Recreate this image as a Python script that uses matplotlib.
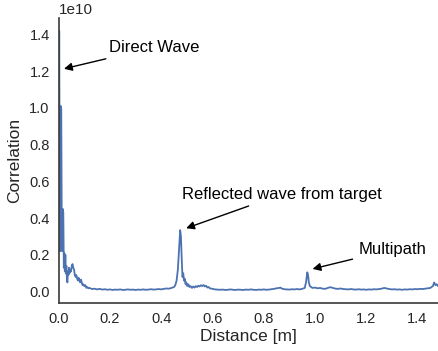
import numpy as np
import matplotlib
matplotlib.use("Agg")
import matplotlib.pyplot as plt
import seaborn as sns

sns.set_theme(style="white")
plt.rcParams['font.family'] = ['Liberation Sans', 'DejaVu Sans']

distance_m = [
    0.000, 0.002, 0.004, 0.006, 0.008, 0.010, 0.012, 0.014, 0.016, 0.018,
    0.020, 0.022, 0.024, 0.026, 0.028, 0.030, 0.032, 0.034, 0.036, 0.038,
    0.040, 0.042, 0.045, 0.048, 0.051, 0.054, 0.057, 0.060, 0.063, 0.066,
    0.069, 0.072, 0.075, 0.078, 0.081, 0.084, 0.087, 0.090, 0.093, 0.096,
    0.100, 0.104, 0.108, 0.112, 0.116, 0.120, 0.13, 0.14, 0.15, 0.16,
    0.17, 0.18, 0.19, 0.20, 0.21, 0.22, 0.23, 0.24, 0.25, 0.26,
    0.27, 0.28, 0.29, 0.30, 0.31, 0.32, 0.33, 0.34, 0.35, 0.36,
    0.37, 0.38, 0.39, 0.40, 0.41, 0.42, 0.43, 0.44, 0.45, 0.455,
    0.460, 0.465, 0.470, 0.474, 0.477, 0.480, 0.483, 0.486, 0.489, 0.492,
    0.495, 0.498, 0.502, 0.506, 0.510, 0.515, 0.52, 0.525, 0.53, 0.535,
    0.54, 0.545, 0.55, 0.555, 0.56, 0.565, 0.57, 0.575, 0.58, 0.585,
    0.59, 0.60, 0.61, 0.62, 0.63, 0.64, 0.65, 0.66, 0.67, 0.68,
    0.69, 0.70, 0.71, 0.72, 0.73, 0.74, 0.75, 0.76, 0.77, 0.78,
    0.79, 0.80, 0.81, 0.82, 0.83, 0.84, 0.85, 0.86, 0.865, 0.87,
    0.88, 0.89, 0.90, 0.91, 0.92, 0.93, 0.94, 0.95, 0.96, 0.965,
    0.970, 0.973, 0.976, 0.980, 0.985, 0.99, 1.00, 1.01, 1.02, 1.03,
    1.04, 1.05, 1.06, 1.07, 1.08, 1.09, 1.10, 1.11, 1.12, 1.13,
    1.14, 1.15, 1.16, 1.17, 1.18, 1.19, 1.20, 1.21, 1.22, 1.23,
    1.24, 1.25, 1.26, 1.27, 1.28, 1.29, 1.30, 1.31, 1.32, 1.33,
    1.34, 1.35, 1.36, 1.37, 1.38, 1.39, 1.40, 1.41, 1.42, 1.43,
    1.44, 1.45, 1.46, 1.465, 1.470, 1.475, 1.48,
]

correlation_e10 = [
    0.25, 1.42, 0.55, 0.22, 1.01, 0.99, 0.35, 0.22, 0.45, 0.43,
    0.13, 0.21, 0.11, 0.20, 0.10, 0.14, 0.07, 0.05, 0.11, 0.09,
    0.13, 0.10, 0.12, 0.11, 0.14, 0.15, 0.13, 0.12, 0.09, 0.08,
    0.09, 0.07, 0.06, 0.075, 0.06, 0.05, 0.065, 0.05, 0.035, 0.04,
    0.03, 0.035, 0.02, 0.025, 0.018, 0.02, 0.014, 0.016, 0.012, 0.015,
    0.011, 0.013, 0.010, 0.012, 0.009, 0.011, 0.010, 0.012, 0.009, 0.010,
    0.012, 0.010, 0.011, 0.009, 0.011, 0.010, 0.012, 0.010, 0.011, 0.013,
    0.011, 0.012, 0.014, 0.012, 0.015, 0.017, 0.016, 0.020, 0.025, 0.035,
    0.06, 0.12, 0.24, 0.335, 0.30, 0.18, 0.08, 0.10, 0.06, 0.07,
    0.04, 0.05, 0.03, 0.04, 0.025, 0.03, 0.02, 0.028, 0.022, 0.030,
    0.025, 0.032, 0.028, 0.035, 0.030, 0.036, 0.028, 0.032, 0.022, 0.025,
    0.018, 0.015, 0.012, 0.011, 0.010, 0.011, 0.009, 0.010, 0.012, 0.010,
    0.009, 0.011, 0.010, 0.009, 0.011, 0.010, 0.012, 0.010, 0.009, 0.011,
    0.010, 0.012, 0.010, 0.011, 0.013, 0.015, 0.018, 0.020, 0.022, 0.017,
    0.013, 0.012, 0.011, 0.013, 0.012, 0.014, 0.012, 0.015, 0.020, 0.05,
    0.105, 0.09, 0.05, 0.03, 0.025, 0.02, 0.022, 0.018, 0.020, 0.016,
    0.015, 0.020, 0.024, 0.020, 0.016, 0.015, 0.017, 0.014, 0.013, 0.012,
    0.014, 0.012, 0.011, 0.013, 0.011, 0.012, 0.010, 0.012, 0.011, 0.013,
    0.012, 0.014, 0.016, 0.020, 0.017, 0.014, 0.012, 0.013, 0.011, 0.012,
    0.010, 0.012, 0.011, 0.013, 0.012, 0.014, 0.013, 0.015, 0.014, 0.016,
    0.018, 0.020, 0.030, 0.05, 0.035, 0.040, 0.030,
]

annotations = [
    ("Direct Wave", (0.01, 1.21), (0.195, 1.33)),
    ("Reflected wave from target", (0.487, 0.34), (0.48, 0.53)),
    ("Multipath", (0.98, 0.12), (1.17, 0.23)),
]

x = np.array(distance_m)
y = np.array(correlation_e10) * 1e10

fig = plt.figure(figsize=(4.38, 3.51), dpi=100)
ax = fig.add_axes([0.134, 0.137, 0.866, 0.812])
ax.plot(x, y, color="#4C72B0", lw=1.3)
ax.set_xlim(x.min(), x.max())
ax.set_xlabel("Distance [m]", fontsize=12.5, color="#262626", labelpad=2)
ax.set_ylabel("Correlation", fontsize=12.5, color="#262626", labelpad=5)
ax.tick_params(labelsize=10.5, colors="#262626", length=0, pad=6.5)
for side in ["top", "right"]:
    ax.spines[side].set_visible(False)
for side in ["left", "bottom"]:
    ax.spines[side].set_color("#3a3a3a")
    ax.spines[side].set_linewidth(1.2)

for label, xy, xt in annotations:
    ax.annotate(label, xy=(xy[0], xy[1] * 1e10), xytext=(xt[0], xt[1] * 1e10),
                fontsize=12, color="black", va="center", ha="left",
                arrowprops=dict(arrowstyle="-|>", color="black", lw=1))

fig.savefig("out.png", dpi=100)
